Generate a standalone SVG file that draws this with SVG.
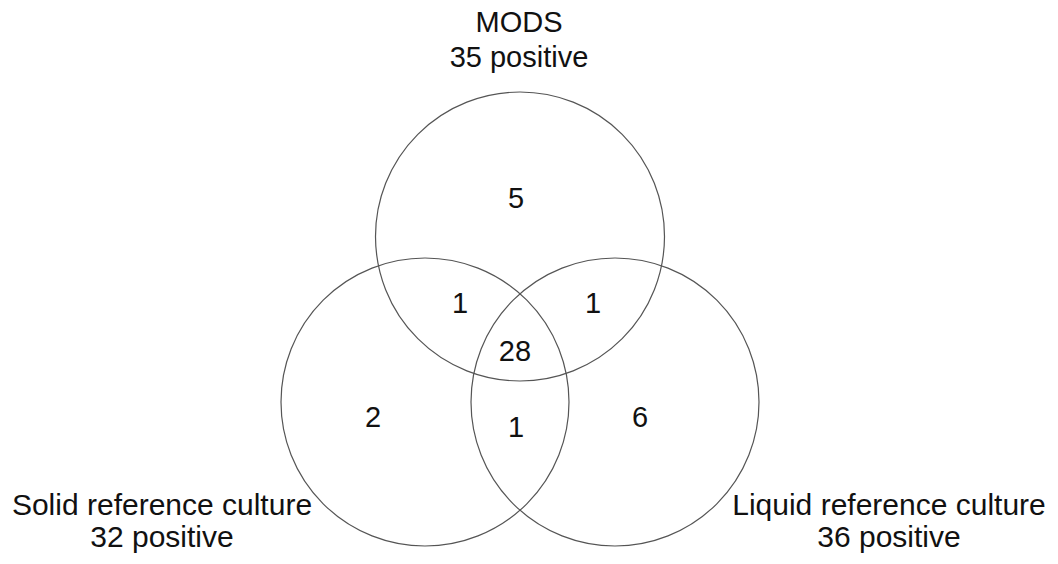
<svg xmlns="http://www.w3.org/2000/svg" width="1058" height="564" viewBox="0 0 1058 564">
<style>
.c{fill:none;stroke:#555;stroke-width:1.2}
.t{font-family:"Liberation Sans",Arial,sans-serif;font-size:29px;fill:#111;text-anchor:middle}
.b{font-size:30px}
</style>
<rect width="1058" height="564" fill="#fff"/>
<g id="mods">
<circle class="c" cx="520" cy="236.5" r="144.5"/>
<text class="t" x="519" y="32">MODS</text>
<text class="t" x="519" y="67">35 positive</text>
</g>
<g id="solid">
<circle class="c" cx="425" cy="402" r="144"/>
<text class="t b" x="162" y="515">Solid reference culture</text>
<text class="t b" x="162" y="547">32 positive</text>
</g>
<g id="liquid">
<circle class="c" cx="615" cy="402" r="144"/>
<text class="t b" x="889" y="515">Liquid reference culture</text>
<text class="t b" x="889" y="547">36 positive</text>
</g>
<g id="counts">
<text class="t" x="516" y="208">5</text>
<text class="t" x="460" y="313">1</text>
<text class="t" x="593" y="313">1</text>
<text class="t" x="515" y="361">28</text>
<text class="t" x="373" y="427">2</text>
<text class="t" x="516" y="437">1</text>
<text class="t" x="640" y="427">6</text>
</g>
</svg>
